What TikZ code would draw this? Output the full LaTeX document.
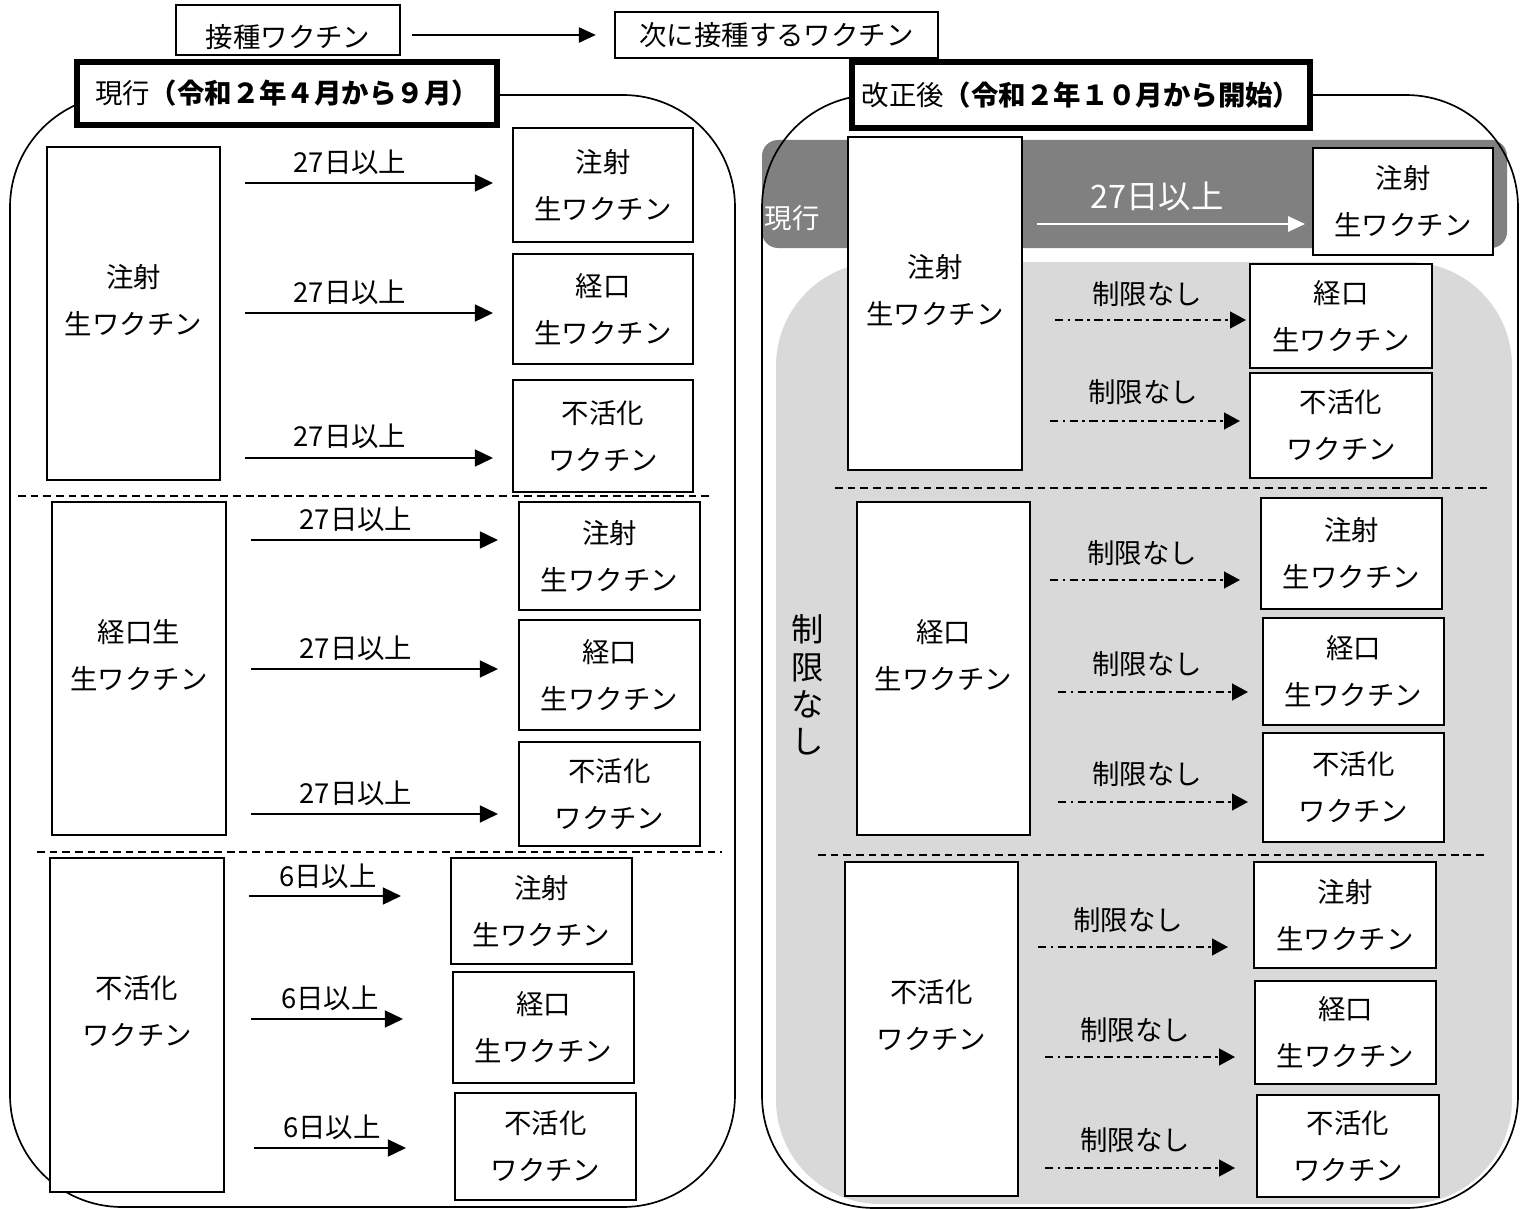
\documentclass[tikz,border=0pt]{standalone}
\usepackage{fontspec}
\setmainfont{Noto Sans CJK JP}
\usetikzlibrary{arrows.meta}
\definecolor{bandgray}{RGB}{128,128,128}
\definecolor{regiongray}{RGB}{217,217,217}
\newcommand{\boxnode}[6]{\node[vbox, minimum width={(#4-#2)*0.025cm}, minimum height={(#5-#3)*0.025cm}] (#1) at ({(#2+#4)/2},{(#3+#5)/2}) {#6};}
\newcommand{\conn}[6]{\coordinate (#2) at (#3,#4); \draw[#1, shorten >={#6*0.025cm}] (#2) -- (#2 -| #5.west);}
\begin{document}
\begin{tikzpicture}[x=0.025cm, y=-0.025cm,
  vbox/.style={draw, line width=1.2pt, fill=white, inner sep=0pt, outer sep=0pt, align=center, font=\fontsize{19.5}{33.4}\selectfont},
  titlebox/.style={draw, line width=4.2pt, fill=white, inner sep=0pt, outer sep=0pt, font=\fontsize{19.5}{24}\selectfont},
  arr/.style={line width=1.5pt, -{Triangle[length=0.45cm,width=0.42cm]}},
  warr/.style={line width=1.4pt, white, -{Triangle[length=0.42cm,width=0.38cm]}},
  darr/.style={line width=1.4pt, dash pattern=on 6pt off 3pt on 2pt off 3pt, -{Triangle[length=0.4cm,width=0.42cm]}},
  sep/.style={line width=1.2pt, dash pattern=on 5.5pt off 3.5pt},
  lbl/.style={font=\fontsize{19.5}{24}\selectfont, inner sep=0pt},
  outline/.style={line width=1.2pt, rounded corners=2.8cm}]
\useasboundingbox (0,0) rectangle (1522,1209);

% ---------- legend ----------
\node[vbox, minimum width={224*0.025cm}, minimum height={50*0.025cm}, text height=0.92cm, text depth=0.05cm] (leg1) at (288,30) {接種ワクチン};
\boxnode{leg2}{615}{12}{938}{58}{次に接種するワクチン}
\draw[line width=1.1pt, -{Triangle[length=0.42cm,width=0.38cm]}, shorten <=0.3cm, shorten >=0.48cm] (leg1.east |- leg2.west) -- (leg2.west);

% ---------- right panel backgrounds ----------
\fill[regiongray, rounded corners=2.6cm] (776,262) rectangle (1512,1204);
\fill[bandgray, rounded corners=0.4cm] (762,140) rectangle (1507,248);

% ---------- outlines ----------
\draw[outline] (10,95) rectangle (735,1207);
\draw[outline] (762,95) rectangle (1518,1208);

% ---------- titles ----------
\node[titlebox, minimum width={420*0.025cm}, minimum height={63*0.025cm}] (tL) at (287,93.5) {現行\textbf{（令和２年４月から９月）}};
\node[titlebox, minimum width={458*0.025cm}, minimum height={66*0.025cm}] (tR) at (1081,95) {改正後\textbf{（令和２年１０月から開始）}};

% ---------- left panel ----------
\boxnode{LA}{47}{147}{220}{480}{注射\\生ワクチン\\[-13pt]\mbox{}}
\boxnode{LA1}{513}{128}{693}{242}{注射\\生ワクチン}
\boxnode{LA2}{513}{254}{693}{364}{経口\\生ワクチン}
\boxnode{LA3}{513}{380}{693}{492}{不活化\\ワクチン}
\conn{arr}{la1}{245}{183}{LA1}{20}
\conn{arr}{la2}{245}{313}{LA2}{20}
\conn{arr}{la3}{245}{458}{LA3}{20}
\node[lbl] (lla1) at (350,162) {27日以上};
\node[lbl] (lla2) at (350,292) {27日以上};
\node[lbl] (lla3) at (350,436) {27日以上};
\draw[sep] (18,496) -- (710,496);

\boxnode{LB}{52}{502}{226}{835}{経口生\\生ワクチン\\[-13pt]\mbox{}}
\boxnode{LB1}{519}{502}{700}{610}{注射\\生ワクチン}
\boxnode{LB2}{519}{620}{700}{730}{経口\\生ワクチン}
\boxnode{LB3}{519}{742}{700}{846}{不活化\\ワクチン}
\conn{arr}{lb1}{251}{540}{LB1}{21}
\conn{arr}{lb2}{251}{669}{LB2}{21}
\conn{arr}{lb3}{251}{814}{LB3}{21}
\node[lbl] (llb1) at (356,519) {27日以上};
\node[lbl] (llb2) at (356,648) {27日以上};
\node[lbl] (llb3) at (356,793) {27日以上};
\draw[sep] (37,852) -- (722,852);

\boxnode{LC}{50}{858}{224}{1192}{不活化\\ワクチン\\[-13pt]\mbox{}}
\boxnode{LC1}{451}{858}{632}{964}{注射\\生ワクチン}
\boxnode{LC2}{453}{972}{634}{1083}{経口\\生ワクチン}
\boxnode{LC3}{455}{1093}{636}{1200}{不活化\\ワクチン}
\conn{arr}{lc1}{249}{896}{LC1}{50}
\conn{arr}{lc2}{251}{1019}{LC2}{50}
\conn{arr}{lc3}{254}{1148}{LC3}{49}
\node[lbl] (llc1) at (328,876) {6日以上};
\node[lbl] (llc2) at (330,998) {6日以上};
\node[lbl] (llc3) at (332,1127) {6日以上};

% ---------- right panel ----------
\node[lbl, text=white] (genko) at (792,218) {現行};
\boxnode{RA}{848}{137}{1022}{470}{注射\\生ワクチン\\[-13pt]\mbox{}}
\boxnode{RA0}{1313}{148}{1493}{255}{注射\\生ワクチン}
\conn{warr}{ra0}{1037}{224}{RA0}{8}
\node[lbl, text=white, font=\fontsize{23}{28}\selectfont] (lra0) at (1157,197) {27日以上};
\boxnode{RA1}{1250}{264}{1432}{368}{経口\\生ワクチン}
\boxnode{RA2}{1250}{373}{1432}{478}{不活化\\ワクチン}
\conn{darr}{ra1}{1055}{320}{RA1}{4}
\conn{darr}{ra2}{1050}{421}{RA2}{10}
\node[lbl] (lra1) at (1147,294) {制限なし};
\node[lbl] (lra2) at (1143,392) {制限なし};
\draw[sep] (835,488) -- (1487,488);

\boxnode{RB}{857}{502}{1030}{835}{経口\\生ワクチン\\[-13pt]\mbox{}}
\boxnode{RB1}{1261}{498}{1442}{609}{注射\\生ワクチン}
\boxnode{RB2}{1263}{618}{1444}{725}{経口\\生ワクチン}
\boxnode{RB3}{1263}{733}{1444}{842}{不活化\\ワクチン}
\conn{darr}{rb1}{1050}{580}{RB1}{21}
\conn{darr}{rb2}{1058}{692}{RB2}{15}
\conn{darr}{rb3}{1058}{802}{RB3}{15}
\node[lbl] (lrb1) at (1142,553) {制限なし};
\node[lbl] (lrb2) at (1147,664) {制限なし};
\node[lbl] (lrb3) at (1147,774) {制限なし};
\draw[sep] (818,855) -- (1484,855);
\node[align=center, inner sep=0pt, font=\fontsize{23}{26.5}\selectfont] (vert) at (808,685) {制\\限\\な\\し};

\boxnode{RC}{845}{862}{1018}{1196}{不活化\\ワクチン\\[-13pt]\mbox{}}
\boxnode{RC1}{1254}{862}{1436}{968}{注射\\生ワクチン}
\boxnode{RC2}{1255}{981}{1436}{1084}{経口\\生ワクチン}
\boxnode{RC3}{1257}{1095}{1439}{1197}{不活化\\ワクチン}
\conn{darr}{rc1}{1038}{947}{RC1}{26}
\conn{darr}{rc2}{1045}{1057}{RC2}{20}
\conn{darr}{rc3}{1045}{1168}{RC3}{22}
\node[lbl] (lrc1) at (1128,920) {制限なし};
\node[lbl] (lrc2) at (1135,1030) {制限なし};
\node[lbl] (lrc3) at (1135,1140) {制限なし};
\end{tikzpicture}
\end{document}
